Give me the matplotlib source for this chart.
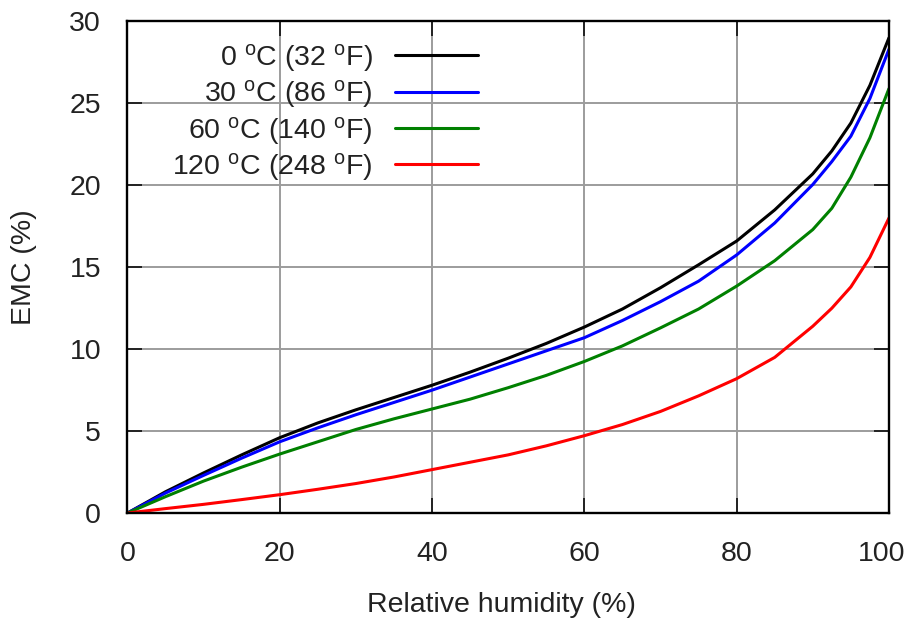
import matplotlib
matplotlib.use("Agg")
import matplotlib.pyplot as plt
import matplotlib.transforms as mtransforms

plt.rcParams["font.family"] = ["Liberation Sans", "DejaVu Sans"]
plt.rcParams["mathtext.fontset"] = "custom"
plt.rcParams["mathtext.rm"] = "Liberation Sans"
plt.rcParams["mathtext.it"] = "Liberation Sans"

# Relative humidity (%) and equilibrium moisture content (%) per temperature
rh = [0, 5, 10, 15, 20, 25, 30, 35, 40, 45, 50, 55, 60, 65, 70, 75, 80,
      85, 90, 92.5, 95, 97.5, 100]
emc_0c = [0, 1.3, 2.45, 3.55, 4.6, 5.5, 6.3, 7.05, 7.8, 8.6, 9.45, 10.35,
          11.35, 12.45, 13.75, 15.15, 16.6, 18.5, 20.7, 22.1, 23.8, 26.1, 29.0]
emc_30c = [0, 1.22, 2.3, 3.35, 4.35, 5.2, 6.0, 6.75, 7.5, 8.3, 9.1, 9.9,
           10.7, 11.75, 12.9, 14.15, 15.75, 17.7, 20.05, 21.45, 23.0, 25.3, 28.3]
emc_60c = [0, 1.0, 1.95, 2.8, 3.6, 4.35, 5.1, 5.75, 6.35, 6.95, 7.65, 8.4,
           9.25, 10.2, 11.3, 12.45, 13.85, 15.4, 17.3, 18.6, 20.5, 22.9, 25.9]
emc_120c = [0, 0.27, 0.53, 0.82, 1.12, 1.45, 1.8, 2.2, 2.65, 3.1, 3.55, 4.1,
            4.72, 5.4, 6.2, 7.15, 8.2, 9.5, 11.4, 12.5, 13.8, 15.6, 18.0]

labels = [r"0 $^{\mathrm{o}}$C (32 $^{\mathrm{o}}$F)",
          r"30 $^{\mathrm{o}}$C (86 $^{\mathrm{o}}$F)",
          r"60 $^{\mathrm{o}}$C (140 $^{\mathrm{o}}$F)",
          r"120 $^{\mathrm{o}}$C (248 $^{\mathrm{o}}$F)"]
colors = ["#000000", "#0000ff", "#008000", "#ff0000"]
xticks = [0, 20, 40, 60, 80, 100]
yticks = [0, 5, 10, 15, 20, 25, 30]

FS = 20.5
TXT = "#222222"

fig = plt.figure(figsize=(9.08, 6.19), dpi=100)
ax = fig.add_axes([0.1404, 0.1712, 0.8386, 0.7941])

for series, color, label in zip([emc_0c, emc_30c, emc_60c, emc_120c], colors, labels):
    ax.plot(rh, series, color=color, lw=2.2, label=label,
            solid_capstyle="round", solid_joinstyle="round", zorder=3)

ax.set_xlim(0, 100)
ax.set_ylim(0, 30)
ax.set_xticks(xticks)
ax.set_yticks(yticks)
ax.grid(True, color="#9c9c9c", lw=1.4)
ax.set_axisbelow(True)
for sp in ax.spines.values():
    sp.set_linewidth(1.7)
    sp.set_zorder(4)
ax.tick_params(direction="in", length=11, width=1.4, top=True, right=True,
               labelsize=FS, colors=TXT, labelcolor=TXT)
ax.tick_params(axis="x", pad=20)
ax.tick_params(axis="y", pad=19)

# keep the rightmost x tick label inside the canvas
last = ax.get_xticklabels()[-1]
last.set_transform(last.get_transform() +
                   mtransforms.ScaledTranslation(-5 / 72, 0, fig.dpi_scale_trans))

ax.set_xlabel("Relative humidity (%)", fontsize=FS, color=TXT)
ax.xaxis.set_label_coords(0.4905, -0.16)
ax.set_ylabel("EMC (%)", fontsize=FS, color=TXT, labelpad=23)

leg = ax.legend(loc="upper right", bbox_to_anchor=(0.475, 0.982), frameon=False,
                markerfirst=False, alignment="right", fontsize=FS,
                handlelength=2.9, handletextpad=0.8, labelspacing=0.155,
                borderaxespad=0.0)
for t in leg.get_texts():
    t.set_color(TXT)

fig.savefig("out.png", dpi=100)
